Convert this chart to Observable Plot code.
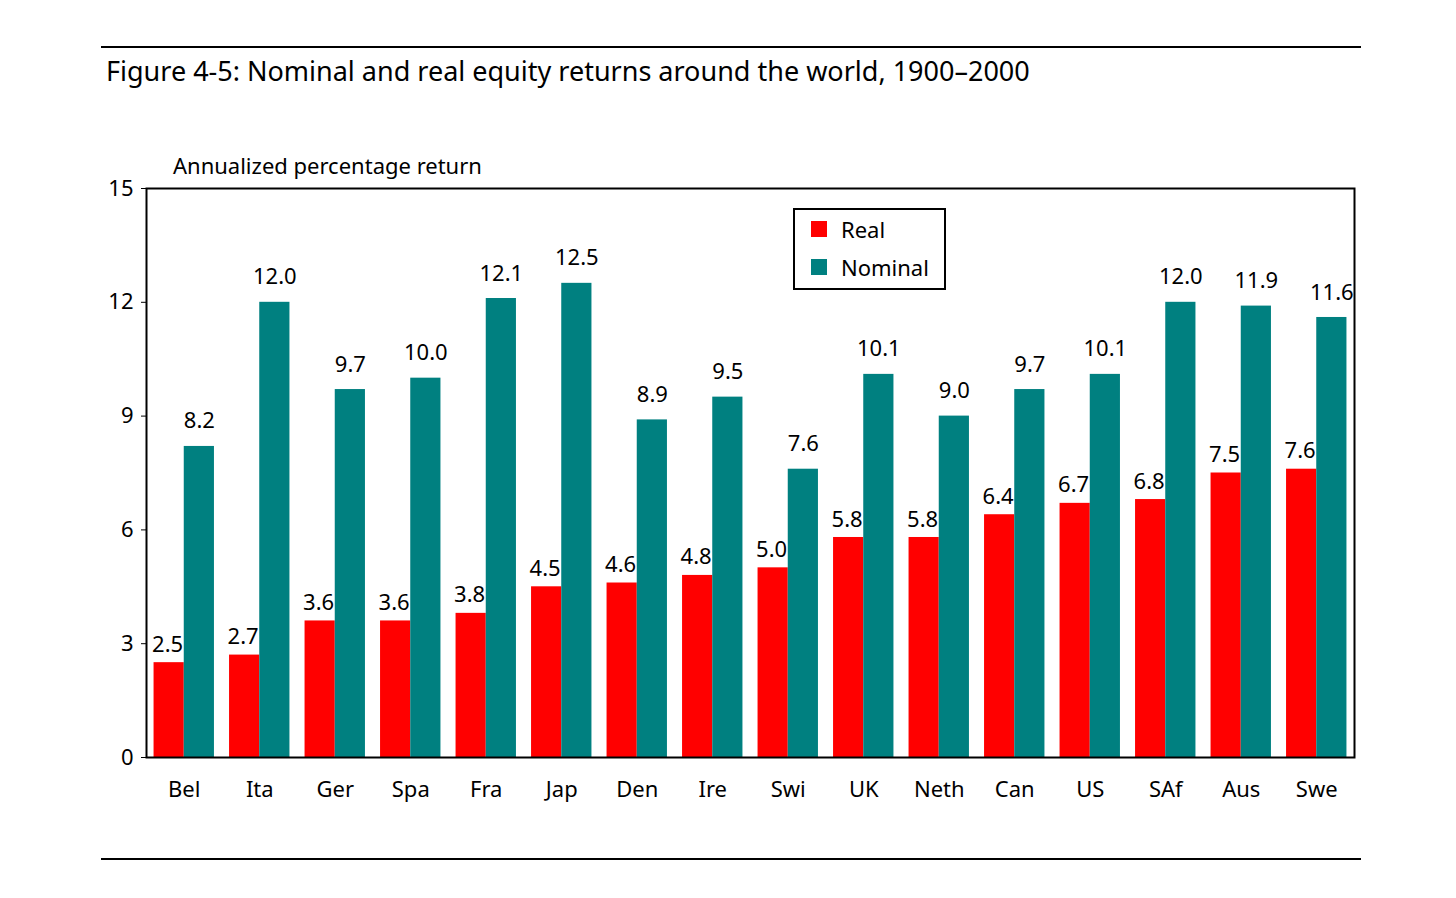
<!DOCTYPE html>
<html><head><meta charset="utf-8">
<script src="https://cdn.jsdelivr.net/npm/d3@7"></script>
<script src="https://cdn.jsdelivr.net/npm/@observablehq/plot@0.6"></script>
<style>
body{margin:0;background:#fff;font-family:"Noto Sans",sans-serif;}
#wrap{position:relative;width:1456px;height:898px;}
.rule{position:absolute;left:101px;width:1260px;height:2px;background:#000;}
#title{position:absolute;left:106px;top:52px;font-size:27px;color:#000;}
#ylab{position:absolute;left:173px;top:150px;font-size:22px;}
#legend{position:absolute;left:793px;top:208px;width:149px;height:78px;border:2px solid #000;font-size:22px;}
.li{position:absolute;left:16px;display:flex;align-items:center;gap:14px;}
.sw{width:16px;height:16px;display:inline-block;}
#chart{position:absolute;left:0;top:0;}
</style></head><body>
<div id="wrap">
<div class="rule" style="top:46px"></div>
<div id="title">Figure 4-5: Nominal and real equity returns around the world, 1900–2000</div>
<div id="ylab">Annualized percentage return</div>
<div id="chart"></div>
<div id="legend">
<div class="li" style="top:4px"><span class="sw" style="background:#ff0000"></span>Real</div>
<div class="li" style="top:42px"><span class="sw" style="background:#008080"></span>Nominal</div>
</div>
<div class="rule" style="top:858px"></div>
</div>
<script>
const countries=["Bel","Ita","Ger","Spa","Fra","Jap","Den","Ire","Swi","UK","Neth","Can","US","SAf","Aus","Swe"];
const real=[2.5,2.7,3.6,3.6,3.8,4.5,4.6,4.8,5.0,5.8,5.8,6.4,6.7,6.8,7.5,7.6];
const nominal=[8.2,12.0,9.7,10.0,12.1,12.5,8.9,9.5,7.6,10.1,9.0,9.7,10.1,12.0,11.9,11.6];
const yTicks=[0,3,6,9,12,15];
const data=countries.map((c,i)=>({i,c,real:real[i],nominal:nominal[i]}));
const fmt=d3.format(".1f");
const chart=Plot.plot({
  width:1456,height:898,marginLeft:146,marginRight:102,marginTop:188,marginBottom:141,
  style:{fontFamily:"Noto Sans",fontSize:"22px",color:"#000",background:"transparent"},
  x:{domain:[-0.5,15.5],ticks:d3.range(16),tickFormat:i=>countries[i],tickSize:0,tickPadding:24,label:null},
  y:{domain:[0,15],ticks:yTicks,tickSize:5,tickPadding:8,label:null},
  marks:[
    Plot.rectY(data,{x1:d=>d.i-0.4,x2:d=>d.i,y:"real",fill:"#ff0000"}),
    Plot.rectY(data,{x1:d=>d.i,x2:d=>d.i+0.4,y:"nominal",fill:"#008080"}),
    Plot.text(data,{x:d=>d.i-0.22,y:"real",text:d=>fmt(d.real),dy:-18,fontSize:22}),
    Plot.text(data,{x:d=>d.i+0.2,y:"nominal",text:d=>fmt(d.nominal),dy:-25,fontSize:22}),
    Plot.frame({stroke:"#000",strokeWidth:2})
  ]
});
document.getElementById("chart").appendChild(chart);
</script>
</body></html>
